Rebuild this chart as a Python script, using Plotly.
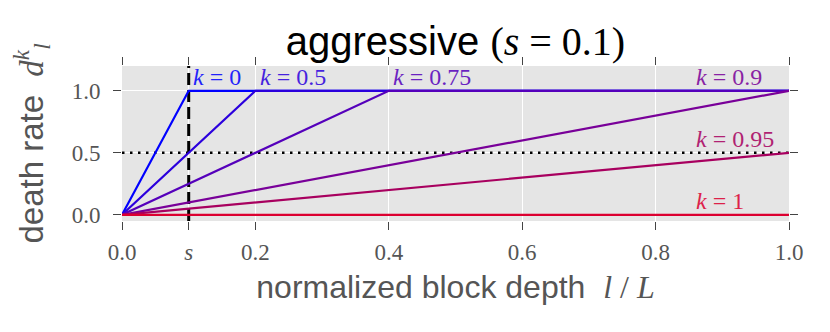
import plotly.graph_objects as go

# death rate curves d_l^k for s = 0.1
k_labels = ["0", "0.5", "0.75", "0.9", "0.95", "1"]
depth_pts = [
    [0.0, 0.1, 1.0],
    [0.0, 0.2, 1.0],
    [0.0, 0.4, 1.0],
    [0.0, 1.0],
    [0.0, 1.0],
    [0.0, 1.0],
]
rate_pts = [
    [0.0, 1.0, 1.0],
    [0.0, 1.0, 1.0],
    [0.0, 1.0, 1.0],
    [0.0, 1.0],
    [0.0, 0.5],
    [0.0, 0.0],
]
colors = ["#0000ff", "#2b00dd", "#5500bb", "#790099", "#a8005f", "#dc0030"]

# label anchors (x, y) in data units
label_x = [0.104, 0.204, 0.404, 0.858, 0.858, 0.858]
label_y = [1.11, 1.11, 1.11, 1.11, 0.61, 0.11]

s_val = 0.1
xtick_vals = [0.0, 0.1, 0.2, 0.4, 0.6, 0.8, 1.0]
xtick_text = ["0.0", "<i>s</i>", "0.2", "0.4", "0.6", "0.8", "1.0"]
ytick_vals = [0.0, 0.5, 1.0]
ytick_text = ["0.0", "0.5", "1.0"]

SERIF = "Liberation Serif"
SANS = "Liberation Sans"
GREY = "#555555"

fig = go.Figure()

# reference lines
fig.add_trace(go.Scatter(x=[s_val, s_val], y=[-0.05, 1.2], mode="lines",
                         line=dict(color="black", width=3, dash="12px,5px"),
                         showlegend=False, hoverinfo="skip"))
fig.add_trace(go.Scatter(x=[0, 1], y=[0.5, 0.5], mode="lines",
                         line=dict(color="black", width=2.5, dash="2.5px,5.5px"),
                         showlegend=False, hoverinfo="skip"))

for xs, ys, c in zip(depth_pts, rate_pts, colors):
    fig.add_trace(go.Scatter(x=xs, y=ys, mode="lines",
                             line=dict(color=c, width=2.2),
                             showlegend=False))

for lab, lx, ly, c in zip(k_labels, label_x, label_y, colors):
    fig.add_annotation(x=lx, y=ly, text="<i>k</i> = " + lab, showarrow=False,
                       xanchor="left", yanchor="middle",
                       font=dict(family=SERIF, size=24, color=c), opacity=0.85)

# page body adds 8px offset, so figure is shrunk by that
fig.update_layout(
    width=822, height=324,
    margin=dict(l=114, r=41, t=58, b=111),
    paper_bgcolor="white",
    plot_bgcolor="#e5e5e5",
    title=dict(
        text="aggressive <span style='font-family:" + SERIF + "'>(<i>s</i> = 0.1)</span>",
        x=0.5, xref="paper", xanchor="center",
        y=0.897, yref="container", yanchor="middle",
        font=dict(family=SANS, size=40, color="black"),
    ),
    xaxis=dict(
        range=[0, 1], tickvals=xtick_vals, ticktext=xtick_text,
        showgrid=True, gridcolor="white", gridwidth=1, zeroline=False,
        ticks="outside", ticklen=8, tickcolor="#444444", mirror="ticks",
        tickfont=dict(family=SERIF, size=23, color=GREY), automargin=False,
        ticklabelstandoff=2,
        title=dict(text="normalized block depth  <span style='font-family:" + SERIF + "'><i>l</i> / <i>L</i></span>",
                   font=dict(family=SANS, size=32, color=GREY), standoff=12),
    ),
    yaxis=dict(
        range=[-0.05, 1.2], tickvals=ytick_vals, ticktext=ytick_text,
        showgrid=True, gridcolor="white", gridwidth=1, zeroline=False,
        ticks="outside", ticklen=8, tickcolor="#444444", mirror="ticks",
        tickfont=dict(family=SERIF, size=23, color=GREY), automargin=False,
        ticklabelstandoff=8,
        title=dict(text="death rate  <span style='font-family:" + SERIF + "'><i>d</i><sup><i>k</i></sup><sub><i>l</i></sub></span>",
                   font=dict(family=SANS, size=33, color=GREY), standoff=22),
    ),
)

fig.write_html("out.html")
